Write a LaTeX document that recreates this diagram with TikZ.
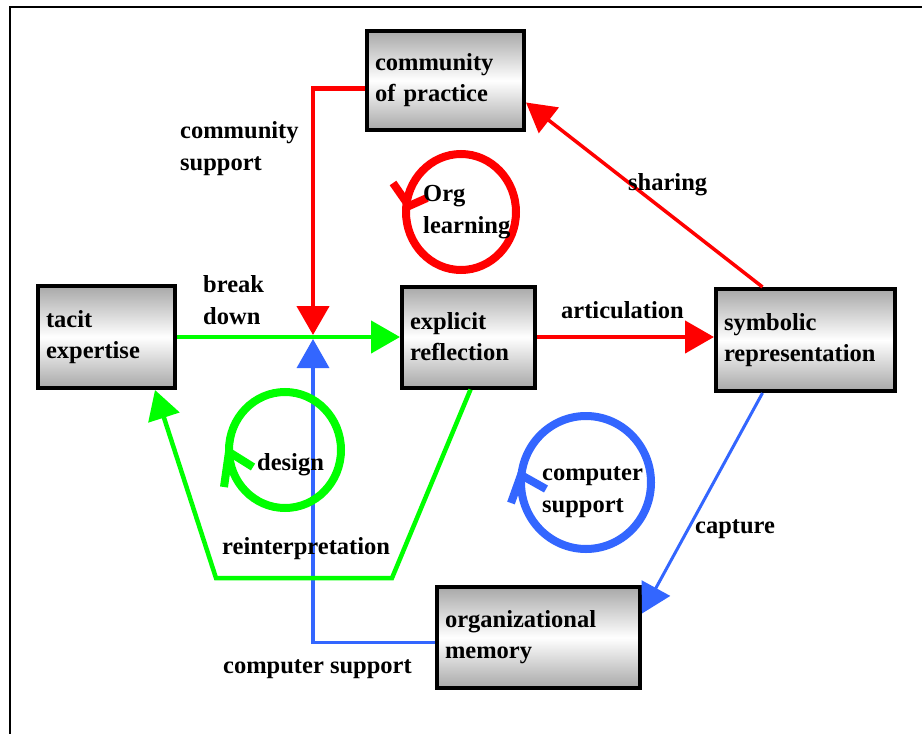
\documentclass[tikz,border=0pt]{standalone}
\usepackage{fontspec}
\setmainfont{Liberation Serif}
\usetikzlibrary{arrows.meta}
\definecolor{myred}{RGB}{255,0,0}
\definecolor{mygreen}{RGB}{0,255,0}
\definecolor{myblue}{RGB}{51,102,255}
\definecolor{boxgray}{RGB}{168,168,168}
\begin{document}
\begin{tikzpicture}[x=1pt,y=-1pt,
  box/.style={draw=black, line width=4pt, top color=boxgray, bottom color=boxgray, middle color=white,
    align=left, inner xsep=8pt, inner ysep=0pt, outer sep=2pt, anchor=center,
    font=\fontsize{24.5}{31}\selectfont\bfseries},
  lbl/.style={align=left, inner sep=0pt, anchor=base west, font=\fontsize{24.5}{32}\selectfont\bfseries},
  conn/.style={line width=4.5pt, -{Triangle[length=29pt,width=32pt]}},
  loopc/.style={line width=8pt},
]
\useasboundingbox (0,0) rectangle (922,734);
\fill[white] (0,0) rectangle (922,734);
\draw[line width=2.5pt] (10,734) -- (10,7) -- (922,7);

% boxes
\node[box, text width=141pt, minimum height=99pt] (comm) at (445.5,80.5) {community\\of practice};
\node[box, text width=121pt, minimum height=102pt] (tacit) at (106.5,337) {tacit\\expertise};
\node[box, text width=117pt, minimum height=101pt] (expl) at (468.5,337) {explicit\\reflection};
\node[box, text width=163pt, minimum height=102pt] (symb) at (805.5,340) {symbolic\\representation};
\node[box, text width=187pt, minimum height=101pt] (orgmem) at (538.5,637.5) {organizational\\memory};

\coordinate (J) at (313,337);
\coordinate (g1) at (392,578);
\coordinate (g2) at (216,578);

% connectors
\draw[conn, myred] ([yshift=-8pt]comm.west) -| ([yshift=2pt]J);
\draw[conn, myblue, line width=3.5pt] ([yshift=-5pt]orgmem.west) -| ([yshift=-2pt]J);
\draw[conn, mygreen] (tacit.east) -- (expl.west);
\draw[conn, myred] (expl.east) -- (expl.east -| symb.west);
\draw[conn, myred, line width=3.5pt] ([xshift=-43pt]symb.north) -- ([yshift=-22pt]comm.east);
\draw[conn, myblue, line width=3pt] ([xshift=-43pt]symb.south) -- ([yshift=24pt]orgmem.east);
\draw[conn, mygreen] ([xshift=2pt]expl.south) -- (g1) -- (g2) -- ([xshift=48.5pt]tacit.south);

% loops
\draw[loopc, myred] (461,212) ellipse [x radius=55, y radius=58];
\draw[loopc, myred] (393,183) -- (409,206) -- (427,198);
\draw[loopc, mygreen] (285,450) ellipse [x radius=56, y radius=58];
\draw[loopc, mygreen] (224,487) -- (229,452) -- (253,467);
\draw[loopc, myblue] (586,482.5) ellipse [x radius=65, y radius=66.5];
\draw[loopc, myblue] (511,503) -- (521,475) -- (546,489);

% labels
\node[lbl] (lcs) at (180,170) {community\\support};
\node[lbl] (lsh) at (628,190) {sharing};
\node[lbl] (lorg) at (423,233) {Org\\learning};
\node[lbl] (lbd) at (203,324) {break\\down};
\node[lbl] (lart) at (561,318) {articulation};
\node[lbl] (ldes) at (257,470) {design};
\node[lbl] (lcomp) at (542,512) {computer\\support};
\node[lbl] (lcap) at (695,533) {capture};
\node[lbl] (lrei) at (222,554) {reinterpretation};
\node[lbl] (lcs2) at (223,673) {computer support};
\end{tikzpicture}
\end{document}
